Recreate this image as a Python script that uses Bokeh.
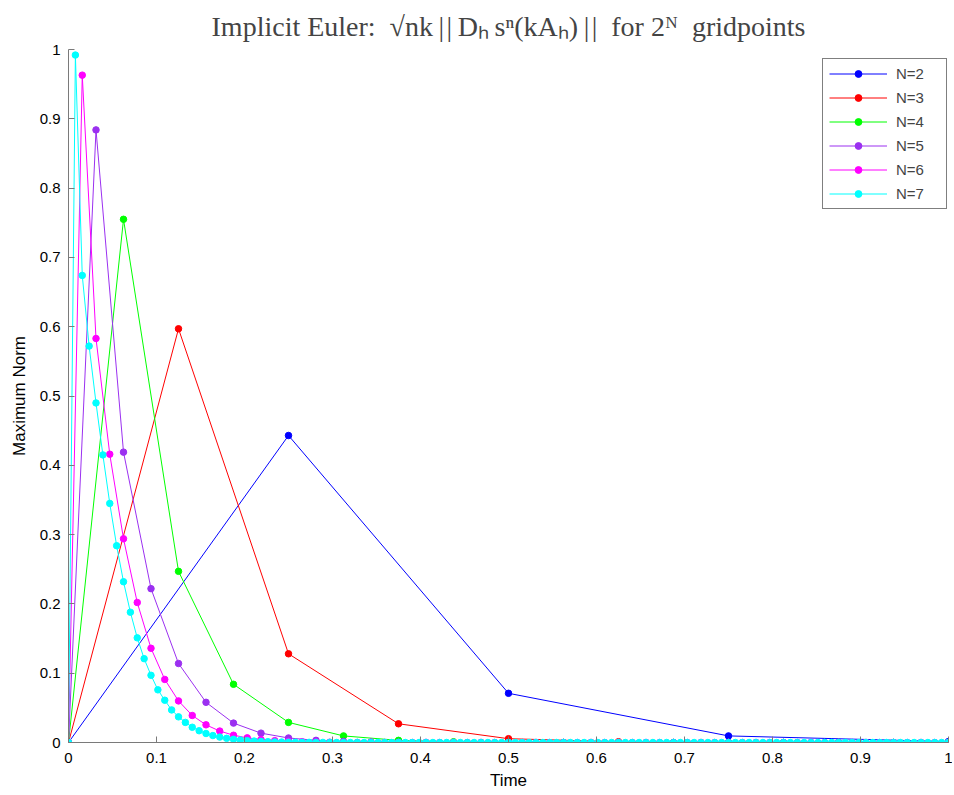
import numpy as np
from bokeh.plotting import figure
from bokeh.models import FixedTicker, Legend, LegendItem, Range1d
from bokeh.embed import file_html
from bokeh.resources import INLINE

# ---- data ----
labels = ["N=2", "N=3", "N=4", "N=5", "N=6", "N=7"]
colors = ["#0000FF", "#FF0000", "#00FF00", "#9B30F0", "#FF00FF", "#00FFFF"]

n2 = [0.0, 0.443, 0.071, 0.0095, 0.0013]

n3 = [0.0, 0.597, 0.128, 0.027, 0.0055, 0.0011, 0.0002, 0.00005, 0.00001]

n4 = [0.0, 0.755, 0.247, 0.084, 0.029, 0.0095, 0.0031, 0.001, 0.0003,
      0.0001, 0.00003, 0.0, 0.0, 0.0, 0.0, 0.0, 0.0]

n5 = [0.0, 0.884, 0.419, 0.222, 0.114, 0.058, 0.028, 0.0135, 0.0065,
      0.0031, 0.0015, 0.0007, 0.00033, 0.00016, 0.00008, 0.00004,
      0.0, 0.0, 0.0, 0.0, 0.0, 0.0, 0.0, 0.0, 0.0, 0.0, 0.0, 0.0,
      0.0, 0.0, 0.0, 0.0, 0.0]

n6 = [0.0, 0.963, 0.583, 0.416, 0.294, 0.202, 0.136, 0.091, 0.060,
      0.039, 0.0255, 0.0165, 0.0105, 0.0067, 0.0043, 0.0027, 0.0017,
      0.0011, 0.0007, 0.00045, 0.0003, 0.00018, 0.00012, 0.00008,
      0.0, 0.0, 0.0, 0.0, 0.0, 0.0, 0.0, 0.0, 0.0, 0.0,
      0.0, 0.0, 0.0, 0.0, 0.0, 0.0, 0.0, 0.0, 0.0, 0.0,
      0.0, 0.0, 0.0, 0.0, 0.0, 0.0, 0.0, 0.0, 0.0, 0.0,
      0.0, 0.0, 0.0, 0.0, 0.0, 0.0, 0.0, 0.0, 0.0, 0.0, 0.0]

n7 = [0.0, 0.992, 0.674, 0.572, 0.490, 0.415, 0.345, 0.284, 0.232,
      0.188, 0.151, 0.121, 0.097, 0.076, 0.061, 0.047, 0.037, 0.029,
      0.022, 0.017, 0.013, 0.010, 0.0078, 0.006, 0.0046, 0.0035,
      0.0027, 0.0021, 0.0016, 0.0012, 0.0009, 0.0007, 0.0005, 0.0004,
      0.0003, 0.0002, 0.00017, 0.00013, 0.0001,
      0.0, 0.0, 0.0, 0.0, 0.0, 0.0, 0.0, 0.0, 0.0, 0.0,
      0.0, 0.0, 0.0, 0.0, 0.0, 0.0, 0.0, 0.0, 0.0, 0.0,
      0.0, 0.0, 0.0, 0.0, 0.0, 0.0, 0.0, 0.0, 0.0, 0.0,
      0.0, 0.0, 0.0, 0.0, 0.0, 0.0, 0.0, 0.0, 0.0, 0.0,
      0.0, 0.0, 0.0, 0.0, 0.0, 0.0, 0.0, 0.0, 0.0, 0.0,
      0.0, 0.0, 0.0, 0.0, 0.0, 0.0, 0.0, 0.0, 0.0, 0.0,
      0.0, 0.0, 0.0, 0.0, 0.0, 0.0, 0.0, 0.0, 0.0, 0.0,
      0.0, 0.0, 0.0, 0.0, 0.0, 0.0, 0.0, 0.0, 0.0, 0.0,
      0.0, 0.0, 0.0, 0.0, 0.0, 0.0, 0.0, 0.0, 0.0, 0.0]

series = [n2, n3, n4, n5, n6, n7]

tick_vals = [0, 0.1, 0.2, 0.3, 0.4, 0.5, 0.6, 0.7, 0.8, 0.9, 1]
tick_labels = ["0", "0.1", "0.2", "0.3", "0.4", "0.5", "0.6", "0.7", "0.8", "0.9", "1"]

title_text = ("Implicit Euler:\u2002\u221Ank\u2009|\u200A|\u2009D\u2095\u2009s\u207F(kA\u2095)"
              "\u2009|\u200A|\u2002for 2\u1D3A\u2002gridpoints")

# ---- figure ----
p = figure(width=952, height=793, output_backend="svg", toolbar_location=None,
           x_range=Range1d(0, 1), y_range=Range1d(0, 1),
           min_border_left=68, min_border_right=4, min_border_top=49,
           min_border_bottom=51)
p.outline_line_color = None
p.grid.visible = False
p.background_fill_color = "white"

p.title.text = title_text
p.title.text_font = "Liberation Serif"
p.title.text_font_size = "28px"
p.title.text_font_style = "normal"
p.title.align = "center"
p.title.standoff = 15

overrides = {v: l for v, l in zip(tick_vals, tick_labels)}
for ax in (p.xaxis[0], p.yaxis[0]):
    ax.ticker = FixedTicker(ticks=tick_vals)
    ax.major_label_overrides = overrides
    ax.axis_line_color = "#7a7a7a"
    ax.major_tick_line_color = "#7a7a7a"
    ax.major_tick_in = 6
    ax.major_tick_out = 0
    ax.minor_tick_line_color = None
    ax.major_label_text_font = "Liberation Sans"
    ax.major_label_text_font_size = "15px"
    ax.major_label_text_color = "black"
    ax.axis_label_text_font = "Liberation Sans"
    ax.axis_label_text_font_size = "17px"
    ax.axis_label_text_font_style = "normal"
    ax.axis_label_text_color = "black"

p.xaxis.major_label_standoff = 10
p.xaxis.axis_label = "Time"
p.xaxis.axis_label_standoff = 5
p.yaxis.major_label_standoff = 8
p.yaxis.axis_label = "Maximum Norm"
p.yaxis.axis_label_standoff = 8

items = []
for lab, col, vals in zip(labels, colors, series):
    t = np.linspace(0.0, 1.0, len(vals))
    r1 = p.line(t, vals, line_color=col, line_width=1)
    r2 = p.scatter(t, vals, size=6.5, fill_color=col, line_color=col)
    items.append(LegendItem(label=lab, renderers=[r1, r2]))

legend = Legend(items=items, location=(754, 533), margin=0,
                glyph_width=58, glyph_height=17, label_height=17,
                label_width=44, spacing=7, padding=6, label_standoff=9,
                border_line_color="black", border_line_width=1,
                background_fill_color="white", background_fill_alpha=1.0,
                label_text_font="Liberation Sans", label_text_font_size="15px")
p.add_layout(legend)

open("out.html", "w").write(file_html(p, INLINE))
